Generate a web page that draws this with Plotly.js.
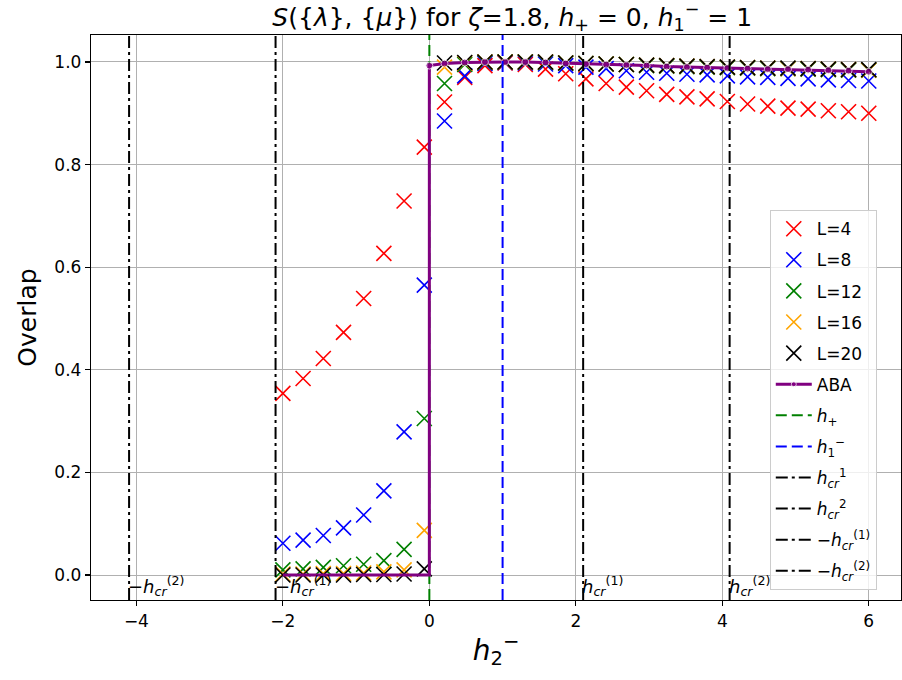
<!DOCTYPE html>
<html>
<head>
<meta charset="utf-8">
<script src="https://cdn.plot.ly/plotly-3.0.1.min.js"></script>
<style>html,body{margin:0;padding:0;background:#fff;}#chart{width:902px;height:680px;}</style>
</head>
<body>
<div id="chart"></div>
<script>
// ---- data ----
const hVals = [-2.0, -1.724, -1.448, -1.172, -0.897, -0.621, -0.345, -0.069,
  0.207, 0.483, 0.759, 1.034, 1.310, 1.586, 1.862, 2.138, 2.414, 2.690, 2.966,
  3.241, 3.517, 3.793, 4.069, 4.345, 4.621, 4.897, 5.172, 5.448, 5.724, 6.0];

const overlapL4 = [0.354, 0.383, 0.422, 0.473, 0.539, 0.627, 0.729, 0.834,
  0.922, 0.970, 0.993, 0.998, 0.995, 0.986, 0.977, 0.967, 0.958, 0.951, 0.944,
  0.937, 0.932, 0.928, 0.923, 0.918, 0.914, 0.910, 0.908, 0.905, 0.903, 0.900];
const overlapL8 = [0.062, 0.068, 0.077, 0.092, 0.117, 0.164, 0.279, 0.565,
  0.885, 0.973, 0.997, 0.999, 0.998, 0.996, 0.993, 0.990, 0.987, 0.983, 0.980,
  0.978, 0.976, 0.975, 0.973, 0.971, 0.970, 0.968, 0.967, 0.965, 0.964, 0.963];
const overlapL12 = [0.010, 0.012, 0.015, 0.018, 0.021, 0.028, 0.050, 0.305,
  0.958, 0.995, 0.999, 1.000, 1.000, 0.999, 0.998, 0.997, 0.996, 0.995, 0.993,
  0.992, 0.991, 0.990, 0.989, 0.988, 0.987, 0.987, 0.986, 0.985, 0.984, 0.984];
const overlapL16 = [0.002, 0.002, 0.003, 0.003, 0.004, 0.006, 0.010, 0.087,
  0.990, 0.998, 1.000, 1.000, 1.000, 1.000, 0.998, 0.997, 0.996, 0.995, 0.994,
  0.993, 0.992, 0.991, 0.990, 0.989, 0.988, 0.987, 0.987, 0.986, 0.985, 0.984];
const overlapL20 = [0.000, 0.000, 0.000, 0.000, 0.001, 0.001, 0.002, 0.012,
  0.998, 0.999, 1.000, 1.000, 1.000, 1.000, 0.998, 0.997, 0.996, 0.995, 0.994,
  0.993, 0.992, 0.991, 0.990, 0.989, 0.988, 0.988, 0.987, 0.986, 0.985, 0.985];

const abaX = [-2.0, -1.724, -1.448, -1.172, -0.897, -0.621, -0.345, -0.069, 0.0, 0.0,
  0.207, 0.483, 0.759, 1.034, 1.310, 1.586, 1.862, 2.138, 2.414, 2.690, 2.966,
  3.241, 3.517, 3.793, 4.069, 4.345, 4.621, 4.897, 5.172, 5.448, 5.724, 6.0];
const abaY = [0, 0, 0, 0, 0, 0, 0, 0, 0, 0.993,
  0.997, 0.999, 1.000, 1.000, 1.000, 0.999, 0.997, 0.996, 0.995, 0.994, 0.993,
  0.991, 0.990, 0.989, 0.988, 0.987, 0.986, 0.986, 0.985, 0.984, 0.983, 0.981];

const seriesNames = ["L=4", "L=8", "L=12", "L=16", "L=20"];
const seriesColors = ["red", "blue", "green", "orange", "black"];
const seriesData = [overlapL4, overlapL8, overlapL12, overlapL16, overlapL20];

const hPlus = 0;
const h1Minus = 1;
const hcr1 = 2.1;
const hcr2 = 4.1;

const xTicks = [-4, -2, 0, 2, 4, 6];
const yTicks = [0, 0.2, 0.4, 0.6, 0.8, 1.0];

// ---- layout constants ----
const xRange = [-4.62, 6.44];
const yRange = [-0.0487, 1.0526];
const FONT = "DejaVu Sans, sans-serif";

const traces = [];
seriesData.forEach((ys, i) => {
  traces.push({
    x: hVals, y: ys, type: "scatter", mode: "markers", name: seriesNames[i],
    legendrank: i + 1, legendgroup: "g" + i,
    marker: {symbol: "x-thin", size: 15, color: seriesColors[i],
      line: {color: seriesColors[i], width: 1.6}}
  });
});

function vline(xv, name, color, dash, rank) {
  return {x: [xv, xv], y: yRange, type: "scatter", mode: "lines", name: name,
    legendrank: rank, legendgroup: "v" + rank,
    line: {color: color, width: 2, dash: dash}, hoverinfo: "skip"};
}

traces.push(vline(hPlus, "<i>h</i><sub>+</sub>", "green", "11px,5px", 7));
traces.push({x: abaX, y: abaY, type: "scatter", mode: "lines+markers", name: "ABA",
  legendrank: 6, legendgroup: "aba",
  line: {color: "purple", width: 3},
  marker: {color: "purple", size: abaY.map((v, i) => (abaX[i] < 0 || (abaX[i] === 0 && v === 0)) ? 0 : 7)}});
traces.push(vline(h1Minus, "<i>h</i><sub>1</sub><sup>−</sup>", "blue", "11px,5px", 8));
const dd = "12px,4px,3px,4px";
traces.push(vline(hcr1, "<i>h</i><sub><i>cr</i></sub><sup>1</sup>", "black", dd, 9));
traces.push(vline(hcr2, "<i>h</i><sub><i>cr</i></sub><sup>2</sup>", "black", dd, 10));
traces.push(vline(-hcr1, "−<i>h</i><sub><i>cr</i></sub><sup>(1)</sup>", "black", dd, 11));
traces.push(vline(-hcr2, "−<i>h</i><sub><i>cr</i></sub><sup>(2)</sup>", "black", dd, 12));

const annY = -0.047;
const annotations = [
  {x: hcr1, y: annY, text: "<i>h</i><sub><i>cr</i></sub><sup>(1)</sup>"},
  {x: hcr2, y: annY, text: "<i>h</i><sub><i>cr</i></sub><sup>(2)</sup>"},
  {x: -hcr1, y: annY, text: "−<i>h</i><sub><i>cr</i></sub><sup>(1)</sup>"},
  {x: -hcr2, y: annY, text: "−<i>h</i><sub><i>cr</i></sub><sup>(2)</sup>"}
].map(a => Object.assign(a, {xref: "x", yref: "y", xanchor: "left", yanchor: "bottom",
  showarrow: false, xshift: -3, yshift: -2, font: {family: FONT, size: 18, color: "black"}}));

const axisCommon = {
  showline: true, linecolor: "black", linewidth: 1.2, mirror: true,
  ticks: "outside", ticklen: 5, tickwidth: 1.2, tickcolor: "black",
  showgrid: true, gridcolor: "#b0b0b0", gridwidth: 1, zeroline: false,
  tickfont: {family: FONT, size: 17, color: "black"}
};

const layout = {
  width: 902, height: 680,
  margin: {l: 91, r: 1, t: 35, b: 80},
  paper_bgcolor: "white", plot_bgcolor: "white",
  font: {family: FONT, color: "black"},
  title: {text: "<i>S</i>({<i>λ</i>}, {<i>μ</i>}) for <i>ζ</i>=1.8, <i>h</i><sub>+</sub> = 0, <i>h</i><sub>1</sub><sup>−</sup> = 1",
    font: {family: FONT, size: 25, color: "black"}, x: 0.52, xref: "paper", xanchor: "center",
    y: 0.975, yref: "container", yanchor: "middle"},
  xaxis: Object.assign({}, axisCommon, {range: xRange, tickvals: xTicks,
    ticktext: xTicks.map(v => v < 0 ? "−" + Math.abs(v) : String(v)),
    title: {text: "<i>h</i><sub>2</sub><sup>−</sup>", font: {family: FONT, size: 28}, standoff: 10}}),
  yaxis: Object.assign({}, axisCommon, {range: yRange, tickvals: yTicks,
    ticktext: yTicks.map(v => v.toFixed(1)),
    title: {text: "Overlap", font: {family: FONT, size: 25}, standoff: 10}}),
  showlegend: true,
  legend: {x: 0.838, y: 0.69, xanchor: "left", yanchor: "top",
    bgcolor: "rgba(255,255,255,0.8)", bordercolor: "#cccccc", borderwidth: 1,
    font: {family: FONT, size: 17, color: "black"}, tracegroupgap: 6, itemwidth: 36},
  annotations: annotations
};

Plotly.newPlot("chart", traces, layout, {displayModeBar: false, staticPlot: true});
</script>
</body>
</html>
